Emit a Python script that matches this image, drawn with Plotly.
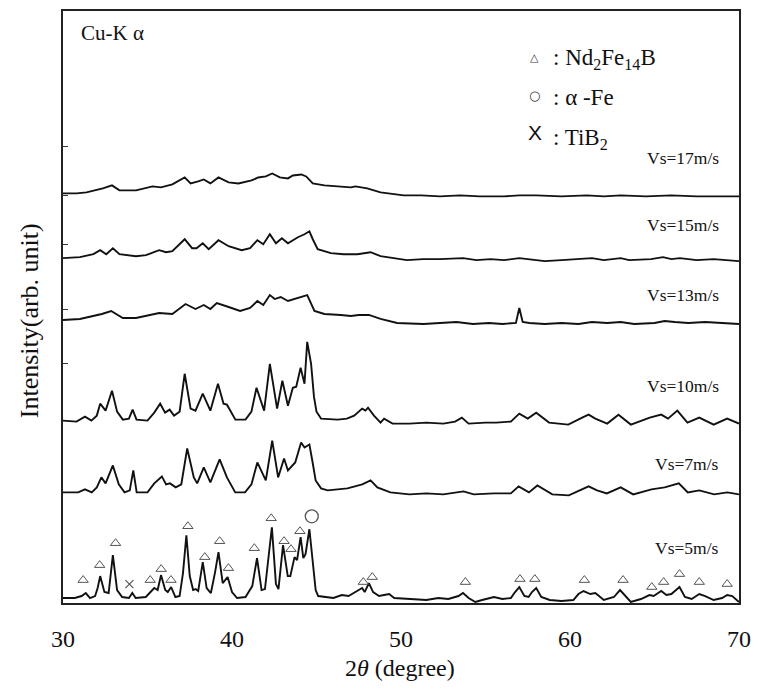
import plotly.graph_objects as go

# ---------------- data (2theta, relative intensity, arb. unit) ----------------
vs5 = [(30.0,0),(30.7,0),(31.1,2),(31.35,5),(31.6,0),(31.9,2),(32.05,10),(32.2,22),(32.45,6),(32.7,5),
       (32.95,43),(33.2,8),(33.5,1),(33.9,0),(34.1,5),(34.3,0),(34.9,1),(35.2,6),(35.4,10),(35.6,8),
       (35.8,23),(36.05,8),(36.2,6),(36.4,11),(36.65,1),(36.9,2),(37.1,25),(37.3,63),(37.5,22),(37.7,8),
       (37.85,9),(38.0,7),(38.27,36),(38.5,10),(38.75,5),(39.0,26),(39.2,46),(39.45,15),(39.74,21),(40.0,6),
       (40.3,0),(40.8,1),(41.2,12),(41.48,40),(41.75,8),(41.95,9),(42.15,40),(42.36,71),(42.6,14),(42.75,9),
       (43.02,53),(43.3,22),(43.45,22),(43.7,41),(43.85,38),(44.06,61),(44.22,40),(44.35,44),(44.58,69),(44.75,38),
       (44.95,8),(45.1,2),(45.5,1),(46.0,0),(46.5,3),(46.9,2),(47.3,6),(47.7,10),(47.85,6),(48.1,15),
       (48.35,6),(48.7,2),(49.0,3),(49.3,4),(49.6,0),(50.5,-1),(51.5,-2),(52.2,0),(52.8,-1),(53.4,2),
       (53.67,5),(54.0,0),(54.4,-4),(54.8,-2),(55.5,1),(56.0,-1),(56.5,0),(56.75,6),(57.0,11),(57.3,2),
       (57.55,1),(57.75,6),(58.0,10),(58.3,1),(58.8,-2),(59.5,-3),(60.2,-2),(60.5,4),(60.8,7),(61.2,4),
       (61.5,5),(62.0,-2),(62.6,1),(62.96,8),(63.3,1),(63.6,-4),(64.2,-1),(64.7,3),(64.95,2),(65.4,7),
       (65.7,3),(66.0,4),(66.48,11),(66.8,1),(67.2,-1),(67.65,4),(68.0,2),(68.5,-2),(69.0,0),(69.3,3),
       (69.6,2),(70.0,-4)]

vs7 = [(30.0,0),(30.9,0),(31.3,3),(31.7,0),(32.0,5),(32.27,15),(32.52,9),(32.95,27),(33.3,8),(33.64,0),
       (33.95,2),(34.16,22),(34.36,0),(35.0,0),(35.4,9),(35.85,16),(36.1,8),(36.33,9),(36.67,5),(37.0,8),
       (37.35,44),(37.74,15),(37.94,9),(38.33,25),(38.72,10),(39.27,33),(39.7,15),(40.19,0),(40.77,0),(41.15,8),
       (41.5,30),(42.0,12),(42.38,52),(42.73,15),(43.08,34),(43.31,22),(43.74,30),(44.09,50),(44.29,45),(44.58,48),
       (44.75,32),(44.95,12),(45.27,4),(45.66,2),(46.83,4),(47.71,8),(48.2,12),(48.6,5),(49.37,0),(50.5,-2),
       (51.5,-1),(52.5,-2),(53.7,1),(54.3,-2),(55.5,-1),(56.5,-1),(56.96,6),(57.57,0),(58.07,7),(58.95,-2),
       (59.93,-3),(60.6,2),(61.1,6),(61.6,2),(62.18,-1),(63.0,5),(63.74,-2),(64.82,3),(65.6,5),(66.44,9),
       (66.97,0),(67.65,2),(68.53,-2),(69.31,0),(70.0,-2)]

vs10 = [(30.0,1),(30.8,0),(31.3,5),(31.68,1),(32.0,6),(32.2,18),(32.52,11),(32.9,31),(33.2,10),(33.54,2),
        (33.9,3),(34.12,12),(34.35,2),(35.0,1),(35.4,9),(35.75,18),(36.04,9),(36.31,12),(36.57,6),(36.9,10),
        (37.2,48),(37.55,13),(37.84,11),(38.27,28),(38.72,11),(39.17,38),(39.5,18),(39.7,17),(40.2,2),(40.8,2),
        (41.15,10),(41.45,34),(41.9,11),(42.24,58),(42.67,13),(42.98,41),(43.31,16),(43.6,34),(43.8,35),(44.06,54),
        (44.29,38),(44.45,80),(44.68,58),(44.85,25),(45.0,10),(45.27,3),(46.25,2),(46.8,3),(47.23,6),(47.7,13),
        (47.9,11),(48.05,14),(48.4,6),(48.79,-1),(49.0,3),(49.5,-2),(50.5,-2),(51.5,-1),(52.5,-2),(53.2,0),
        (53.6,4),(54.0,-2),(55.0,-1),(55.63,-1),(56.5,0),(57.0,8),(57.5,3),(58.0,9),(58.76,-1),(59.9,-3),
        (60.72,4),(61.1,7),(61.5,3),(62.2,-2),(62.87,7),(63.6,-3),(64.72,4),(65.4,7),(65.8,3),(66.35,11),
        (66.95,-1),(67.65,4),(68.5,-3),(69.3,3),(70.0,-2)]

vs13 = [(30.0,-1),(31.0,0),(31.78,3),(32.3,5),(32.85,8),(33.54,1),(34.32,1),(35.1,4),(35.69,6),(36.47,5),
        (37.25,15),(37.84,10),(38.33,14),(38.72,10),(39.1,16),(39.8,12),(40.48,8),(41.07,11),(41.5,18),(41.85,14),
        (42.24,24),(42.53,20),(42.88,22),(43.31,18),(43.9,21),(44.45,24),(44.88,8),(45.47,5),(46.44,4),(47.03,3),
        (47.5,4),(48.1,4),(48.79,0),(49.77,-4),(51.33,-5),(52.5,-4),(53.28,-3),(54.26,-5),(55.2,-4),(56.0,-5),
        (56.8,-4),(57.0,11),(57.2,-3),(57.6,-4),(58.5,-5),(59.5,-4),(60.5,-5),(61.3,-3),(62.2,-4),(63.0,-3),
        (63.8,-5),(65.0,-4),(65.6,-2),(66.2,-3),(67.0,-4),(68.0,-3),(69.0,-4),(70.0,-5)]

vs15 = [(30.0,0),(31.0,1),(31.8,4),(32.2,8),(32.56,4),(32.95,10),(33.34,4),(34.32,2),(34.91,3),(35.69,8),
        (36.1,6),(36.47,7),(37.2,19),(37.64,10),(37.9,10),(38.27,15),(38.62,9),(39.2,18),(39.8,12),(40.57,8),
        (41.07,10),(41.5,18),(41.85,14),(42.24,24),(42.6,15),(42.95,20),(43.31,15),(43.9,21),(44.29,24),(44.58,27),
        (44.78,19),(45.07,9),(45.85,5),(46.6,4),(47.42,4),(48.2,6),(48.79,2),(50.35,-2),(51.3,-1),(52.3,-1),
        (53.68,0),(54.46,-2),(55.3,-1),(56.1,-2),(57.0,0),(57.6,-1),(58.5,-3),(59.5,-2),(60.5,-1),(61.3,0),
        (62.0,-2),(63.0,0),(63.5,-2),(64.8,-1),(65.5,1),(66.0,-1),(66.5,0),(67.5,-2),(68.5,-1),(69.5,-2),(70.0,-3)]

vs17 = [(30.0,-1),(30.8,-1),(31.39,0),(31.9,2),(32.36,4),(32.9,7),(33.34,2),(34.32,2),(35.3,6),(35.8,5),
        (36.47,8),(37.2,15),(37.55,9),(38.0,11),(38.33,13),(38.72,9),(39.2,15),(39.8,10),(40.38,9),(41.16,12),
        (41.55,15),(42.0,16),(42.38,19),(42.83,15),(43.31,14),(43.6,17),(44.1,18),(44.39,16),(44.78,9),(45.47,7),
        (46.3,6),(47.03,5),(47.3,6),(48.0,4),(48.79,0),(50.16,-3),(51.2,-3),(52.3,-4),(53.5,-3),(54.65,-4),
        (56.1,-4),(57.0,-3),(58.0,-3),(59.5,-4),(61.0,-3),(62.0,-4),(63.0,-3),(64.5,-4),(66.0,-3),(67.5,-4),
        (69.0,-4),(70.0,-4)]

patterns = [vs5, vs7, vs10, vs13, vs15, vs17]
speed_labels = ["Vs=5m/s", "Vs=7m/s", "Vs=10m/s", "Vs=13m/s", "Vs=15m/s", "Vs=17m/s"]
offsets = [5, 111, 182, 285, 346, 412]          # vertical stacking offsets (arb. unit)
label_heights = [55, 139, 218, 309, 379, 447]    # label positions (arb. unit)

# phase markers on the Vs=5 m/s pattern: (2theta, height)
nd2fe14b_marks = [(31.19,23),(32.17,38),(33.11,60),(35.16,23),(35.81,34),(36.39,23),(37.39,77),(38.39,46),
                  (39.27,62),(39.79,35),(41.32,55),(42.32,85),(43.08,62),(43.49,54),(44.02,72),(47.77,21),
                  (48.3,26),(53.81,21),(57.04,24),(57.92,24),(60.85,23),(63.14,23),(64.84,16),(65.54,21),
                  (66.48,29),(67.65,21),(69.3,19)]
alpha_fe_marks = [(44.72,87)]
tib2_marks = [(33.93,19)]

# ---------------- figure ----------------
fig = go.Figure()
for pat, off in zip(patterns, offsets):
    fig.add_trace(go.Scatter(x=[p[0] for p in pat], y=[p[1] + off for p in pat], mode="lines",
                             line=dict(color="#111111", width=1.9), showlegend=False, hoverinfo="skip"))

fig.add_trace(go.Scatter(x=[m[0] for m in nd2fe14b_marks], y=[m[1] for m in nd2fe14b_marks], mode="markers",
                         marker=dict(symbol="triangle-up-open", size=9, color="#555", line=dict(width=1)),
                         showlegend=False, hoverinfo="skip"))
fig.add_trace(go.Scatter(x=[m[0] for m in alpha_fe_marks], y=[m[1] for m in alpha_fe_marks], mode="markers",
                         marker=dict(symbol="circle-open", size=13, color="#555", line=dict(width=1.3)),
                         showlegend=False, hoverinfo="skip"))
fig.add_trace(go.Scatter(x=[m[0] for m in tib2_marks], y=[m[1] for m in tib2_marks], mode="markers",
                         marker=dict(symbol="x-thin-open", size=8, color="#555", line=dict(width=1.2)),
                         showlegend=False, hoverinfo="skip"))

serif = "Liberation Serif"
ann = []
for lab, h in zip(speed_labels, label_heights):
    ann.append(dict(x=68.95, y=h, xref="x", yref="y", text=lab, showarrow=False, xanchor="right",
                    yanchor="middle", font=dict(family=serif, size=17.5, color="#111")))

# pixel helpers for paper positioning
L, R, T, B = 63, 745, 9, 603
def px(xp): return (xp - L) / (R - L)
def py(yp): return (B - yp) / (B - T)

ann += [
    dict(x=px(79), y=py(31), xref="paper", yref="paper", text="Cu-K α", showarrow=False, xanchor="left",
         yanchor="middle", font=dict(family=serif, size=21, color="#111")),
    dict(x=px(539), y=py(56), xref="paper", yref="paper", text="△", showarrow=False, xanchor="center",
         yanchor="middle", font=dict(family="DejaVu Sans", size=11, color="#333")),
    dict(x=px(555), y=py(57), xref="paper", yref="paper", text=": Nd<sub>2</sub>Fe<sub>14</sub>B",
         showarrow=False, xanchor="left", yanchor="middle", font=dict(family=serif, size=23, color="#111")),
    dict(x=px(539), y=py(94), xref="paper", yref="paper", text="○", showarrow=False, xanchor="center",
         yanchor="middle", font=dict(family="DejaVu Sans", size=13, color="#333")),
    dict(x=px(555), y=py(96), xref="paper", yref="paper", text=": α -Fe", showarrow=False, xanchor="left",
         yanchor="middle", font=dict(family=serif, size=23, color="#111")),
    dict(x=px(539), y=py(131), xref="paper", yref="paper", text="X", showarrow=False, xanchor="center",
         yanchor="middle", font=dict(family="Liberation Sans", size=21, color="#111")),
    dict(x=px(555), y=py(137), xref="paper", yref="paper", text=": TiB<sub>2</sub>", showarrow=False,
         xanchor="left", yanchor="middle", font=dict(family=serif, size=23, color="#111")),
    dict(x=px(403), y=py(668), xref="paper", yref="paper", text="2<i>θ</i> (degree)", showarrow=False,
         xanchor="center", yanchor="middle", font=dict(family=serif, size=24, color="#111")),
    dict(x=px(30), y=py(320), xref="paper", yref="paper", text="Intensity(arb. unit)", showarrow=False,
         textangle=-90, xanchor="center", yanchor="middle", font=dict(family=serif, size=26, color="#111")),
]

fig.update_layout(
    width=760, height=689,
    margin=dict(l=L, r=760 - R, t=T, b=689 - B),
    plot_bgcolor="white", paper_bgcolor="white",
    annotations=ann,
    xaxis=dict(range=[30, 70], tickvals=[30, 40, 50, 60, 70], ticks="", showgrid=False, zeroline=False,
               showline=True, mirror=True, linecolor="#222", linewidth=1.5,
               tickfont=dict(family=serif, size=24, color="#111"), ticklabelstandoff=13),
    yaxis=dict(range=[0, 594], showticklabels=False, showgrid=False, zeroline=False,
               tickvals=[240, 294, 360, 409, 458], ticks="inside", ticklen=5, tickcolor="#333",
               showline=True, mirror=True, linecolor="#222", linewidth=1.5),
)

fig.write_html("out.html")
